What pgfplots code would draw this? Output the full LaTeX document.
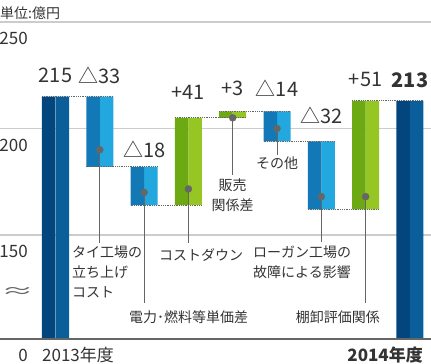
\documentclass[border=0pt]{standalone}
\usepackage{pgfplots}
\pgfplotsset{compat=1.18}
\usepackage{pgfplotstable}
\usepackage{fontspec}
\usepackage{graphicx}
\setmainfont{Noto Sans CJK JP}

\definecolor{dkL}{HTML}{03467D}
\definecolor{dkR}{HTML}{0A5F9A}
\definecolor{blL}{HTML}{1379B6}
\definecolor{blR}{HTML}{22A7DF}
\definecolor{grL}{HTML}{6CA913}
\definecolor{grR}{HTML}{95C623}
\definecolor{gridc}{HTML}{CCCCCC}
\definecolor{axc}{HTML}{666666}
\definecolor{txt}{HTML}{333333}
\definecolor{lead}{HTML}{666666}

\pgfplotstableread{
x base dkL dkR blL blR grL grR
-0.1524 0 215 0 0 0 0 0
0.1524 0 0 215 0 0 0 0
0.8476 182 0 0 33 0 0 0
1.1524 182 0 0 0 33 0 0
1.8476 164 0 0 18 0 0 0
2.1524 164 0 0 0 18 0 0
2.8476 164 0 0 0 0 41 0
3.1524 164 0 0 0 0 0 41
3.8476 205 0 0 0 0 3 0
4.1524 205 0 0 0 0 0 3
4.8476 194 0 0 14 0 0 0
5.1524 194 0 0 0 14 0 0
5.8476 162 0 0 32 0 0 0
6.1524 162 0 0 0 32 0 0
6.8476 162 0 0 0 0 51 0
7.1524 162 0 0 0 0 0 51
7.8476 0 213 0 0 0 0 0
8.1524 0 0 213 0 0 0 0
}\bars

\newcommand\vfont{\fontsize{20}{24}\selectfont}
\newcommand\lfont{\fontsize{14}{20}\selectfont}

\begin{document}
\begin{tikzpicture}
\useasboundingbox (0pt,-25pt) rectangle (431pt,339pt);
\pgfplotsset{
  common/.style={
    width=431pt, height=317pt, scale only axis,
    at={(0pt,0pt)}, anchor=south west,
    xmin=-1.2528, xmax=8.4763, ymin=101.17, ymax=250,
    enlargelimits=false,
    major tick length=0pt,
    xtick=\empty,
  }
}
% bars and grid
\begin{axis}[common,
  ybar stacked, bar width=0.3047,
  axis line style={draw=none},
  ytick={101.17,150,200,250},
  yticklabels={0,150,200,250},
  ymajorgrids, grid style={color=gridc, line width=1.3pt},
  yticklabel style={anchor=north east, inner sep=0pt, xshift=28pt, yshift=-10pt,
    font=\fontsize{17}{20}\selectfont, text=txt},
]
\addplot[draw=none, fill=none] table[x=x, y=base] {\bars};
\addplot[draw=none, fill=dkL] table[x=x, y=dkL] {\bars};
\addplot[draw=none, fill=dkR] table[x=x, y=dkR] {\bars};
\addplot[draw=none, fill=blL] table[x=x, y=blL] {\bars};
\addplot[draw=none, fill=blR] table[x=x, y=blR] {\bars};
\addplot[draw=none, fill=grL] table[x=x, y=grL] {\bars};
\addplot[draw=none, fill=grR] table[x=x, y=grR] {\bars};
\end{axis}
% overlay: connectors, leaders, labels
\begin{axis}[common,
  clip mode=individual,
  ytick=\empty,
  axis x line*=bottom, axis y line*=left,
  y axis line style={draw=none},
  x axis line style={draw=axc, line width=1.6pt, -},
  unbounded coords=jump,
]
\addplot[densely dotted, color=axc, line width=0.8pt] coordinates {
 (-0.3047,215) (1.3047,215) (nan,nan)
 (0.6953,182) (2.3047,182) (nan,nan)
 (1.6953,164) (3.3047,164) (nan,nan)
 (2.6953,205) (4.3047,205) (nan,nan)
 (3.6953,208) (5.3047,208) (nan,nan)
 (4.6953,194) (6.3047,194) (nan,nan)
 (5.6953,162) (7.3047,162) (nan,nan)
 (6.6953,213) (8.3047,213)
};
\addplot[color=lead, line width=1pt] coordinates {
 (1,190) (1,146.2) (nan,nan)
 (2,170) (2,118.1) (nan,nan)
 (3,171.6) (3,146.2) (nan,nan)
 (4,205) (4,178.2) (nan,nan)
 (5,200) (5,187.6) (nan,nan)
 (6,168) (6,146.7) (nan,nan)
 (7,168) (7,118.1)
};
\addplot[only marks, mark=*, mark size=3.5pt, color=lead] coordinates {
 (1,190) (2,170) (3,171.6) (4,205) (5,200) (6,168) (7,168)
};
% value labels
\node[font=\vfont, text=txt] at (axis cs:0,225.1) {215};
\node[font=\vfont, text=txt] at (axis cs:1,225.1) {△33};
\node[font=\vfont, text=txt] at (axis cs:2,190.4) {△18};
\node[font=\vfont, text=txt] at (axis cs:3,217.1) {+41};
\node[font=\vfont, text=txt] at (axis cs:4,219) {+3};
\node[font=\vfont, text=txt] at (axis cs:5,219) {△14};
\node[font=\vfont, text=txt] at (axis cs:6,206.3) {△32};
\node[font=\vfont, text=txt] at (axis cs:7,222.8) {+51};
\node[font=\vfont\bfseries, text=txt] at (axis cs:8,222.8) {213};
% category labels
\node[font=\lfont, text=txt, align=left, anchor=north west, inner sep=0pt] at (axis cs:0.372,144.8) {タイ工場の\\立ち上げ\\コスト};
\node[font=\lfont, text=txt, anchor=west, inner sep=0pt] at (axis cs:1.66,111.5) {電力･燃料等単価差};
\node[font=\lfont, text=txt, anchor=west, inner sep=0pt] at (axis cs:2.336,140.6) {コストダウン};
\node[font=\lfont, text=txt, align=center, anchor=north, inner sep=0pt] at (axis cs:4,176.3) {販売\\関係差};
\node[font=\lfont, text=txt, anchor=north, inner sep=0pt] at (axis cs:5,186.6) {その他};
\node[font=\lfont, text=txt, align=left, anchor=north west, inner sep=0pt] at (axis cs:4.458,144.8) {ローガン工場の\\故障による影響};
\node[font=\lfont, text=txt, anchor=east, inner sep=0pt] at (axis cs:7.325,111.3) {棚卸評価関係};
% axis texts
\node[font=\fontsize{17}{20}\selectfont, text=txt, anchor=west, inner sep=0pt] at (axis cs:-0.305,93.7) {2013年度};
\node[font=\fontsize{17}{20}\selectfont\bfseries, text=txt, anchor=east, inner sep=0pt] at (axis cs:8.296,93.7) {2014年度};
\node[font=\fontsize{14}{16}\selectfont, text=txt, anchor=west, inner sep=0pt] at (axis cs:-1.2528,254.2) {単位:億円};
\node[text=axc, inner sep=0pt] at (axis cs:-0.858,122.8) {\scalebox{1.9}[1]{\fontsize{17}{20}\selectfont ≈}};
\end{axis}
\end{tikzpicture}
\end{document}
